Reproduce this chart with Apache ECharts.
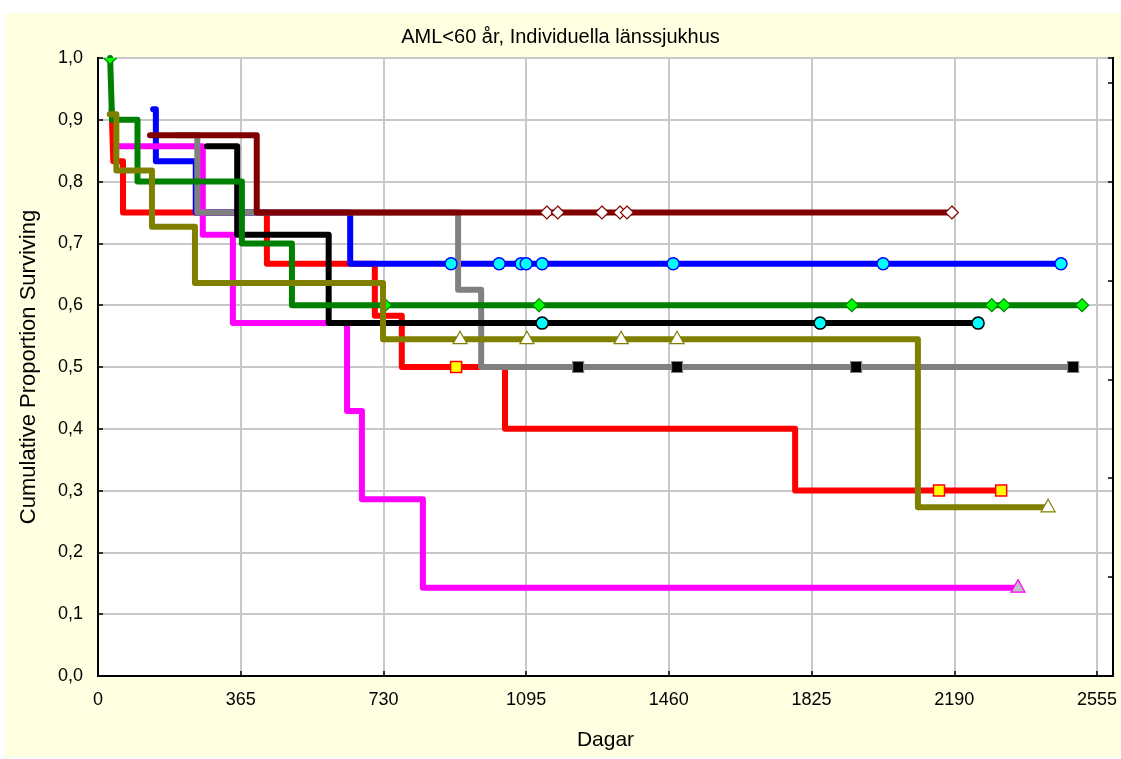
<!DOCTYPE html>
<html>
<head>
<meta charset="utf-8">
<script src="https://cdn.jsdelivr.net/npm/echarts@6/dist/echarts.min.js"></script>
<style>
  html, body { margin: 0; padding: 0; background: #ffffff; }
  #chart { width: 1121px; height: 759px; }
</style>
</head>
<body>
<div id="chart"></div>
<script>
// Axis ticks
const dayTicks = [0, 365, 730, 1095, 1460, 1825, 2190, 2555];
const dayMax = 2596;

// Kaplan–Meier step curves per hospital: [day, cumulative proportion surviving]
const redSteps     = [[35, 0.917], [39, 0.833], [64, 0.75], [432, 0.667], [708, 0.583], [777, 0.5], [1041, 0.4], [1783, 0.3], [2312, 0.3]];
const blueSteps    = [[141, 0.917], [148, 0.833], [250, 0.75], [645, 0.667], [2463, 0.667]];
const magentaSteps = [[55, 0.857], [268, 0.714], [345, 0.571], [637, 0.429], [675, 0.286], [831, 0.143], [2353, 0.143]];
const graySteps    = [[200, 0.875], [254, 0.75], [921, 0.625], [980, 0.5], [2494, 0.5]];
const maroonSteps  = [[133, 0.875], [406, 0.75], [2184, 0.75]];
const blackSteps   = [[279, 0.857], [356, 0.714], [590, 0.571], [2251, 0.571]];
const greenSteps   = [[31, 1.0], [36, 0.9], [101, 0.8], [368, 0.7], [496, 0.6], [2517, 0.6]];
const oliveSteps   = [[30, 0.909], [47, 0.818], [138, 0.727], [248, 0.636], [729, 0.545], [2097, 0.273], [2430, 0.273]];

// Censored observations (days)
const redCensored     = [916, 2151, 2310];
const blueCensored    = [903, 1026, 1082, 1095, 1136, 1471, 2008, 2463];
const magentaCensored = [2353];
const grayCensored    = [1228, 1481, 1939, 2494];
const maroonCensored  = [1148, 1176, 1289, 1335, 1353, 2184];
const blackCensored   = [1136, 1847, 2251];
const greenCensored   = [31, 734, 1128, 1928, 2286, 2317, 2517];
const oliveCensored   = [926, 1097, 1338, 1481, 2430];

const FONT = '"Liberation Sans", Arial, sans-serif';

// Survival level of a step curve at a given day
function levelAt(steps, day) {
  let v = steps[0][1];
  for (const [t, s] of steps) { if (t <= day) v = s; }
  return v;
}

function curve(steps, color, z) {
  return {
    type: 'line',
    step: 'end',
    z: z,
    data: steps,
    showSymbol: false,
    silent: true,
    clip: true,
    lineStyle: { color: color, width: 6, cap: 'round', join: 'round' }
  };
}

function markers(steps, days, shape, fill, stroke, lw, z) {
  return {
    type: 'custom',
    clip: true,
    silent: true,
    z: z,
    data: days.map(d => [d, levelAt(steps, d)]),
    renderItem: function (params, api) {
      const p = api.coord([api.value(0), api.value(1)]);
      const x = p[0], y = p[1];
      const style = { fill: fill, stroke: stroke, lineWidth: lw };
      if (shape === 'circle') {
        return { type: 'circle', shape: { cx: x, cy: y, r: 6 }, style };
      }
      if (shape === 'square') {
        return { type: 'rect', shape: { x: x - 5.5, y: y - 5.5, width: 11, height: 11 }, style };
      }
      if (shape === 'diamond') {
        return { type: 'polygon', shape: { points: [[x, y - 6.5], [x + 6.5, y], [x, y + 6.5], [x - 6.5, y]] }, style };
      }
      // triangle
      return { type: 'polygon', shape: { points: [[x, y - 8], [x + 7, y + 4.5], [x - 7, y + 4.5]] }, style };
    }
  };
}

const chart = echarts.init(document.getElementById('chart'), null, { renderer: 'canvas' });

const option = {
  backgroundColor: '#ffffff',
  animation: false,
  graphic: [{
    type: 'rect', z: -10, silent: true,
    shape: { x: 5, y: 13, width: 1116, height: 744 },
    style: { fill: '#FFFFE1' }
  }],
  title: {
    text: 'AML<60 år, Individuella länssjukhus',
    left: 'center',
    top: 22,
    textStyle: { fontFamily: FONT, fontSize: 20, fontWeight: 'normal', color: '#000' }
  },
  grid: {
    left: 98, top: 58, width: 1015, height: 618,
    show: true, backgroundColor: '#ffffff', borderColor: '#000', borderWidth: 2
  },
  xAxis: [{
    type: 'value',
    min: 0, max: dayMax, interval: 365,
    name: 'Dagar',
    nameLocation: 'middle',
    nameGap: 54,
    nameTextStyle: { fontFamily: FONT, fontSize: 21, color: '#000' },
    axisLine: { show: true, lineStyle: { color: '#000', width: 2 } },
    axisTick: { show: true, inside: true, length: 5, lineStyle: { color: '#000', width: 1.5 } },
    axisLabel: {
      fontFamily: FONT, fontSize: 18, color: '#000', margin: 15,
      showMaxLabel: false,
      formatter: v => (dayTicks.includes(v) ? String(v) : '')
    },
    splitLine: { show: true, lineStyle: { color: '#c8c8c8', width: 2 } }
  }],
  yAxis: [{
    type: 'value',
    min: 0, max: 1, interval: 0.1,
    name: 'Cumulative Proportion Surviving',
    nameLocation: 'middle',
    nameGap: 58,
    nameTextStyle: { fontFamily: FONT, fontSize: 22, color: '#000' },
    axisLine: { show: true, lineStyle: { color: '#000', width: 2 } },
    axisTick: { show: true, inside: true, length: 5, lineStyle: { color: '#000', width: 1.5 } },
    axisLabel: {
      fontFamily: FONT, fontSize: 18, color: '#000', margin: 15,
      formatter: v => v.toFixed(1).replace('.', ',')
    },
    splitLine: { show: true, lineStyle: { color: '#c8c8c8', width: 2 } }
  }, {
    type: 'value',
    position: 'right',
    min: 0, max: 1, interval: 0.16,
    axisLine: { show: true, lineStyle: { color: '#000', width: 2 } },
    axisTick: { show: true, inside: true, length: 5, lineStyle: { color: '#000', width: 1.5 } },
    axisLabel: { show: false },
    splitLine: { show: false }
  }],
  series: [
    curve(redSteps, '#ff0000', 2),
    curve(blueSteps, '#0000ff', 2),
    curve(magentaSteps, '#ff00ff', 2),
    curve(graySteps, '#808080', 2),
    curve(maroonSteps, '#800000', 2),
    curve(blackSteps, '#000000', 2),
    curve(greenSteps, '#008000', 2),
    markers(redSteps, redCensored, 'square', '#ffff00', '#ff0000', 1.5, 3),
    markers(blueSteps, blueCensored, 'circle', '#00ffff', '#0000ff', 1.5, 3),
    markers(magentaSteps, magentaCensored, 'triangle', '#c0c0c0', '#ff00ff', 1.2, 3),
    markers(graySteps, grayCensored, 'square', '#000000', '#808080', 1.2, 3),
    markers(maroonSteps, maroonCensored, 'diamond', '#ffffff', '#800000', 1.2, 3),
    markers(blackSteps, blackCensored, 'circle', '#00ffff', '#000000', 1.5, 3),
    markers(greenSteps, greenCensored, 'diamond', '#00ff00', '#008000', 1.2, 3),
    curve(oliveSteps, '#808000', 4),
    markers(oliveSteps, oliveCensored, 'triangle', '#ffffff', '#808000', 1.2, 5)
  ]
};

chart.setOption(option);
</script>
</body>
</html>
